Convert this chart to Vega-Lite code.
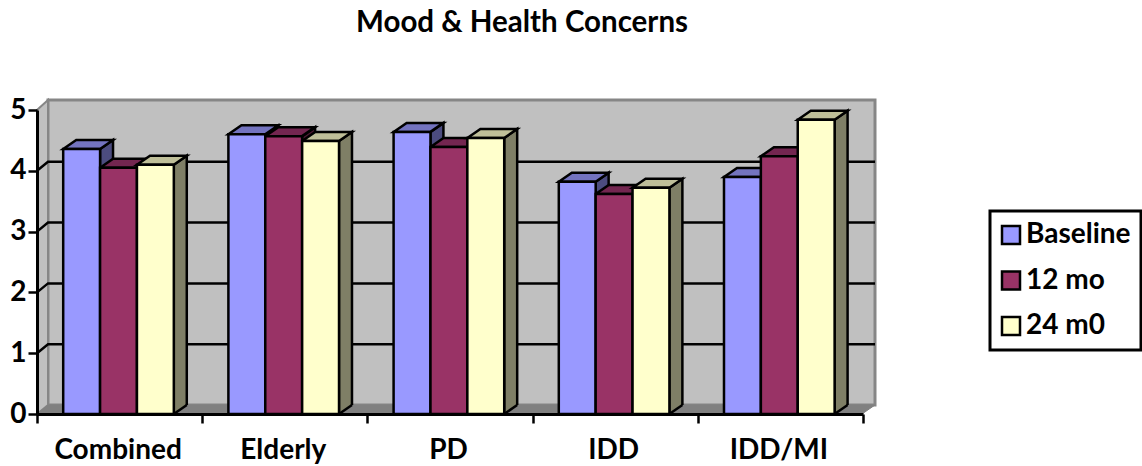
{
"$schema":"https://vega.github.io/schema/vega-lite/v6.json",
"autosize":{"type":"none"},
"padding":{"left":37,"top":100,"right":267,"bottom":52},
"width":838,"height":314,
"background":"white",
"title":{"text":"Mood & Health Concerns","font":"Lato","fontSize":29.5,"fontWeight":"bold","color":"black","anchor":"middle","dx":66,"offset":56},
"config":{"view":{"stroke":null},"font":"Lato","legend":{"strokeColor":"black","strokeWidth":3}},
"datasets":{
"bars":[
{"group":"Combined","period":"Baseline","score":4.36},{"group":"Combined","period":"12 mo","score":4.05},{"group":"Combined","period":"24 m0","score":4.1},
{"group":"Elderly","period":"Baseline","score":4.6},{"group":"Elderly","period":"12 mo","score":4.57},{"group":"Elderly","period":"24 m0","score":4.49},
{"group":"PD","period":"Baseline","score":4.64},{"group":"PD","period":"12 mo","score":4.39},{"group":"PD","period":"24 m0","score":4.54},
{"group":"IDD","period":"Baseline","score":3.82},{"group":"IDD","period":"12 mo","score":3.62},{"group":"IDD","period":"24 m0","score":3.72},
{"group":"IDD/MI","period":"Baseline","score":3.9},{"group":"IDD/MI","period":"12 mo","score":4.24},{"group":"IDD/MI","period":"24 m0","score":4.84}
],
"grid":[{"level":1},{"level":2},{"level":3},{"level":4}],
"one":[{"anchor":"wall"}]
},
"layer":[
{"data":{"name":"one"},
 "mark":{"type":"point","filled":true,"opacity":1,"size":4,"fill":"#C0C0C0","stroke":"#868686","strokeWidth":3,"shape":"M11,-9 L838,-9 L838,-314 L11,-314 Z","clip":false},
 "encoding":{"x":{"datum":"Combined","bandPosition":0,"type":"nominal"},"y":{"datum":0,"type":"quantitative"}}},
{"data":{"name":"one"},
 "mark":{"type":"point","filled":true,"opacity":1,"size":4,"fill":"#C0C0C0","stroke":"#868686","strokeWidth":2,"shape":"M0,0 L11,-9 L11,-314 L0,-304 Z","clip":false},
 "encoding":{"x":{"datum":"Combined","bandPosition":0,"type":"nominal"},"y":{"datum":0,"type":"quantitative"}}},
{"data":{"name":"one"},
 "mark":{"type":"point","filled":true,"opacity":1,"size":4,"fill":"#808080","stroke":"#808080","strokeWidth":1,"shape":"M0,0 L825,0 L838,-9 L11,-9 Z","clip":false},
 "encoding":{"x":{"datum":"Combined","bandPosition":0,"type":"nominal"},"y":{"datum":0,"type":"quantitative"}}},
{"data":{"name":"grid"},
 "mark":{"type":"point","filled":false,"opacity":1,"size":4,"stroke":"black","strokeWidth":2.5,"shape":"M0,0 L11,-9 L838,-9","clip":false},
 "encoding":{"x":{"datum":"Combined","bandPosition":0,"type":"nominal"},"y":{"field":"level","type":"quantitative"}}},
{"data":{"name":"bars"},
 "mark":{"type":"point","filled":true,"opacity":1,"size":4,"stroke":"black","strokeWidth":2.5,"shape":"M18.4,0 L31.4,-9 L31.4,420 L18.4,420 Z","clip":true},
 "encoding":{
  "x":{"field":"group","type":"nominal"},
  "xOffset":{"field":"period","type":"nominal"},
  "y":{"field":"score","type":"quantitative"},
  "fill":{"field":"period","type":"nominal","legend":null,"scale":{"domain":["Baseline","12 mo","24 m0"],"range":["#4C4C7F","#4C1933","#7F7F66"]}}}},
{"data":{"name":"bars"},
 "mark":{"type":"point","filled":true,"opacity":1,"size":4,"fill":"#808080","strokeWidth":0,"shape":"M18.4,0 L31.4,-9 L33.5,-9 L33.5,3 L18.4,3 Z","clip":true},
 "encoding":{
  "x":{"field":"group","type":"nominal"},
  "xOffset":{"field":"period","type":"nominal"},
  "y":{"datum":0,"type":"quantitative"}}},
{"data":{"name":"bars"},
 "mark":{"type":"point","filled":false,"opacity":1,"size":4,"stroke":"black","strokeWidth":2.5,"shape":"M18.4,0 L31.4,-9","clip":true},
 "encoding":{
  "x":{"field":"group","type":"nominal"},
  "xOffset":{"field":"period","type":"nominal"},
  "y":{"datum":0,"type":"quantitative"}}},
{"data":{"name":"bars"},
 "mark":{"type":"point","filled":true,"opacity":1,"size":4,"stroke":"black","strokeWidth":2.5,"shape":"M-18.4,0 L18.4,0 L31.4,-9 L-5.4,-9 Z"},
 "encoding":{
  "x":{"field":"group","type":"nominal"},
  "xOffset":{"field":"period","type":"nominal"},
  "y":{"field":"score","type":"quantitative"},
  "fill":{"field":"period","type":"nominal","legend":null,"scale":{"domain":["Baseline","12 mo","24 m0"],"range":["#7373BF","#732650","#BFBF99"]}}}},
{"data":{"name":"bars"},
 "mark":{"type":"bar","stroke":"black","strokeWidth":2.5},
 "encoding":{
  "x":{"field":"group","type":"nominal","sort":["Combined","Elderly","PD","IDD","IDD/MI"],
   "scale":{"type":"band","domain":["Combined","Elderly","PD","IDD","IDD/MI"],"range":[0,826],"paddingInner":0,"paddingOuter":0},
   "axis":{"title":null,"zindex":1,"labelAngle":0,"labelAlign":"center","labelBaseline":"middle","labelOffset":-2,"labelFont":"Lato","labelFontSize":28,"labelFontWeight":"bold","labelColor":"black","labelPadding":27,"domainColor":"black","domainWidth":3,"tickColor":"black","tickWidth":2.5,"tickSize":9,"tickBand":"extent","labelLimit":200}},
  "xOffset":{"field":"period","type":"nominal","sort":["Baseline","12 mo","24 m0"],"scale":{"type":"band","domain":["Baseline","12 mo","24 m0"],"paddingInner":0,"paddingOuter":0.74,"align":0.48}},
  "y":{"field":"score","type":"quantitative",
   "scale":{"type":"linear","domain":[0,5],"range":[314,10],"nice":false},
   "axis":{"title":null,"zindex":1,"values":[0,1,2,3,4,5],"grid":false,"labelFont":"Lato","labelFontSize":28,"labelFontWeight":"bold","labelColor":"black","labelPadding":2,"domainColor":"black","domainWidth":3,"tickColor":"black","tickWidth":2.5,"tickSize":9,"format":"d"}},
  "fill":{"field":"period","type":"nominal",
   "scale":{"domain":["Baseline","12 mo","24 m0"],"range":["#9999FF","#993366","#FFFFCC"]},
   "legend":{"title":null,"orient":"none","legendX":953,"legendY":111,"direction":"vertical","symbolType":"square","symbolSize":324,"symbolStrokeColor":"black","symbolStrokeWidth":2.5,"symbolOffset":-3,"labelFont":"Lato","labelFontSize":28,"labelFontWeight":"bold","labelColor":"black","labelOffset":1,"rowPadding":17.5,"fillColor":"white","padding":10,"labelLimit":200,"values":["Baseline","12 mo","24 m0"]}}}}
],
"resolve":{"scale":{"fill":"independent"},"legend":{"fill":"independent"}}
}
